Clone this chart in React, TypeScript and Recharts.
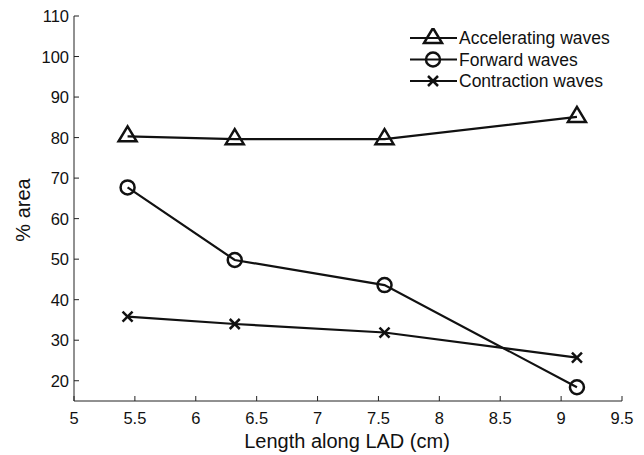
import { Label, Legend, Line, LineChart, XAxis, YAxis } from "recharts";

// length along LAD (cm)
const lengths = [5.44, 6.32, 7.55, 9.13];
// % area per wave type
const accelerating = [80.3, 79.6, 79.6, 85.1];
const forward = [67.7, 49.8, 43.6, 18.4];
const contraction = [35.8, 34.0, 31.9, 25.7];

const xTicks = [5, 5.5, 6, 6.5, 7, 7.5, 8, 8.5, 9, 9.5];
const yTicks = [20, 30, 40, 50, 60, 70, 80, 90, 100, 110];

const seriesNames = ["Accelerating waves", "Forward waves", "Contraction waves"];
const seriesKeys = ["acc", "fwd", "con"];
const seriesMarkers = ["triangle", "circle", "cross"];

const data = lengths.map((x, i) => ({
  x,
  acc: accelerating[i],
  fwd: forward[i],
  con: contraction[i],
}));

const FONT = "'Liberation Sans', Arial, Helvetica, sans-serif";
const INK = "#111";
const AXIS = "#222";

function Marker({ kind, cx, cy }: { kind: string; cx: number; cy: number }) {
  if (kind === "triangle") {
    return (
      <polygon
        points={`${cx},${cy - 10} ${cx - 9},${cy + 5} ${cx + 9},${cy + 5}`}
        fill="none"
        stroke={INK}
        strokeWidth={2.5}
        strokeLinejoin="miter"
      />
    );
  }
  if (kind === "circle") {
    return <circle cx={cx} cy={cy} r={7} fill="none" stroke={INK} strokeWidth={2.5} />;
  }
  const s = 5;
  return (
    <g stroke={INK} strokeWidth={2.5}>
      <line x1={cx - s} y1={cy - s} x2={cx + s} y2={cy + s} />
      <line x1={cx - s} y1={cy + s} x2={cx + s} y2={cy - s} />
    </g>
  );
}

const makeDot = (kind: string) => (props: any) => {
  const { cx, cy, index } = props;
  if (cx == null || cy == null) return <g key={index} />;
  return (
    <g key={`${kind}-${index}`}>
      <Marker kind={kind} cx={cx} cy={cy} />
    </g>
  );
};

const BottomTick = (props: any) => {
  const { x, y, payload } = props;
  return (
    <g>
      <line x1={x} y1={y} x2={x} y2={y - 5} stroke={AXIS} />
      <text x={x} y={y + 23} textAnchor="middle" fontSize={16.5} fontFamily={FONT} fill={INK}>
        {payload.value}
      </text>
    </g>
  );
};

const TopTick = (props: any) => {
  const { x, y } = props;
  return <line x1={x} y1={y} x2={x} y2={y + 5} stroke={AXIS} />;
};

const LeftTick = (props: any) => {
  const { x, y, payload } = props;
  return (
    <g>
      <line x1={x} y1={y} x2={x + 5} y2={y} stroke={AXIS} />
      <text
        x={x - 5}
        y={y}
        textAnchor="end"
        dominantBaseline="central"
        fontSize={16.5}
        fontFamily={FONT}
        fill={INK}
      >
        {payload.value}
      </text>
    </g>
  );
};

const RightTick = (props: any) => {
  const { x, y } = props;
  return <line x1={x} y1={y} x2={x - 5} y2={y} stroke={AXIS} />;
};

const renderLegend = () => (
  <svg width={235} height={66} style={{ display: "block" }}>
    {seriesNames.map((name, i) => {
      const cy = 10 + i * 21.5;
      return (
        <g key={name}>
          <line x1={5} y1={cy} x2={52} y2={cy} stroke={INK} strokeWidth={2} />
          <Marker kind={seriesMarkers[i]} cx={28} cy={cy} />
          <text x={54} y={cy} dominantBaseline="central" fontSize={17.5} fontFamily={FONT} fill={INK}>
            {name}
          </text>
        </g>
      );
    })}
  </svg>
);

export default function App() {
  return (
    <div style={{ position: "absolute", left: 0, top: 0, width: 644, height: 455, background: "#fff" }}>
      <LineChart width={644} height={455} data={data} margin={{ top: 16, right: 22, bottom: 0, left: 0 }}>
        <XAxis
          xAxisId="bottom"
          dataKey="x"
          type="number"
          domain={[5, 9.5]}
          ticks={xTicks}
          allowDataOverflow
          height={54}
          tickSize={0}
          tickMargin={0}
          tickLine={false}
          axisLine={{ stroke: AXIS, strokeWidth: 1 }}
          tick={<BottomTick />}
          interval={0}
        >
          <Label
            content={() => (
              <text x={347} y={448} textAnchor="middle" fontSize={20} fontFamily={FONT} fill={INK}>
                Length along LAD (cm)
              </text>
            )}
          />
        </XAxis>
        <XAxis
          xAxisId="top"
          orientation="top"
          dataKey="x"
          type="number"
          domain={[5, 9.5]}
          ticks={xTicks}
          allowDataOverflow
          height={0}
          tickSize={0}
          tickMargin={0}
          tickLine={false}
          axisLine={{ stroke: AXIS, strokeWidth: 1 }}
          tick={<TopTick />}
          interval={0}
        />
        <YAxis
          yAxisId="left"
          type="number"
          domain={[15, 110]}
          ticks={yTicks}
          allowDataOverflow
          width={74}
          tickSize={0}
          tickMargin={0}
          tickLine={false}
          axisLine={{ stroke: AXIS, strokeWidth: 1 }}
          tick={<LeftTick />}
          interval={0}
        >
          <Label
            content={() => (
              <text
                x={23}
                y={210}
                transform="rotate(-90 23 210)"
                textAnchor="middle"
                dominantBaseline="central"
                fontSize={20}
                fontFamily={FONT}
                fill={INK}
              >
                % area
              </text>
            )}
          />
        </YAxis>
        <YAxis
          yAxisId="right"
          orientation="right"
          type="number"
          domain={[15, 110]}
          ticks={yTicks}
          allowDataOverflow
          width={0}
          tickSize={0}
          tickMargin={0}
          tickLine={false}
          axisLine={{ stroke: AXIS, strokeWidth: 1 }}
          tick={<RightTick />}
          interval={0}
        />
        <Legend
          layout="vertical"
          align="center"
          verticalAlign="middle"
          content={renderLegend}
          wrapperStyle={{ top: 28, left: 405, width: 235 }}
        />
        {seriesKeys.map((key, i) => (
          <Line
            key={key}
            xAxisId="bottom"
            yAxisId="left"
            type="linear"
            dataKey={key}
            name={seriesNames[i]}
            stroke={INK}
            strokeWidth={2.2}
            dot={makeDot(seriesMarkers[i])}
            activeDot={false}
            isAnimationActive={false}
          />
        ))}
      </LineChart>
    </div>
  );
}
